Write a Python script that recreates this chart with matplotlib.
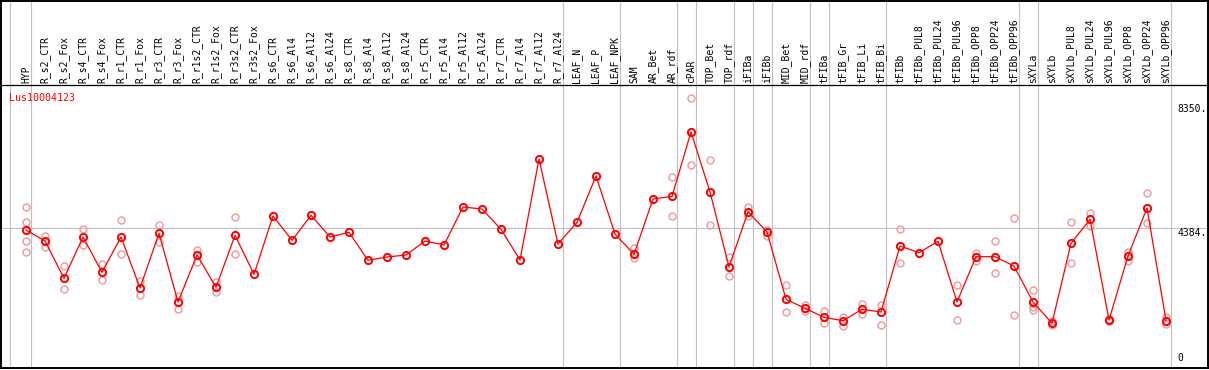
import matplotlib
matplotlib.use("Agg")
import matplotlib.pyplot as plt

# sample names, in drawing order
samples = [
    "HYP", "R_s2_CTR", "R_s2_Fox", "R_s4_CTR", "R_s4_Fox", "R_r1_CTR", "R_r1_Fox",
    "R_r3_CTR", "R_r3_Fox", "R_r1s2_CTR", "R_r1s2_Fox", "R_r3s2_CTR", "R_r3s2_Fox",
    "R_s6_CTR", "R_s6_Al4", "R_s6_Al12", "R_s6_Al24", "R_s8_CTR", "R_s8_Al4",
    "R_s8_Al12", "R_s8_Al24", "R_r5_CTR", "R_r5_Al4", "R_r5_Al12", "R_r5_Al24",
    "R_r7_CTR", "R_r7_Al4", "R_r7_Al12", "R_r7_Al24", "LEAF_N", "LEAF_P", "LEAF_NPK",
    "SAM", "AR_Bet", "AR_rdf", "cPAR", "TOP_Bet", "TOP_rdf", "iFIBa", "iFIBb",
    "MID_Bet", "MID_rdf", "tFIBa", "tFIB_Gr", "tFIB_Li", "tFIB_Bi", "tFIBb",
    "tFIBb_PUL8", "tFIBb_PUL24", "tFIBb_PUL96", "tFIBb_OPP8", "tFIBb_OPP24",
    "tFIBb_OPP96", "sXYLa", "sXYLb", "sXYLb_PUL8", "sXYLb_PUL24", "sXYLb_PUL96",
    "sXYLb_OPP8", "sXYLb_OPP24", "sXYLb_OPP96",
]

# mean expression per sample
means = [
    4320, 3968, 2774, 4096, 2966, 4096, 2464, 4214, 2016, 3520, 2486, 4150, 2902,
    4768, 3990, 4790, 4096, 4246, 3350, 3456, 3520, 3968, 3840, 5056, 4992, 4342,
    3360, 6592, 3872, 4566, 6048, 4192, 3542, 5312, 5398, 7456, 5536, 3136, 4906,
    4256, 2102, 1814, 1526, 1418, 1782, 1696, 3808, 3594, 3958, 2016, 3466, 3466,
    3168, 2016, 1334, 3894, 4662, 1440, 3488, 5024, 1418,
]

# replicate values (sample index -> values) where visible
replicates = {
    0: [5046, 4576, 3958, 3606],
    1: [4138, 3766],
    2: [3168, 2422],
    3: [4342, 3830],
    4: [3232, 2710],
    5: [4630, 3542],
    6: [2688, 2230],
    7: [4480, 3946],
    8: [2208, 1802],
    9: [3680, 3296],
    10: [2666, 2326],
    11: [4736, 3552],
    32: [3754, 3414],
    34: [6006, 4768],
    35: [8544, 6390],
    36: [6560, 4480],
    37: [3466, 2848],
    38: [5066, 4768],
    39: [4320, 4128],
    40: [2560, 1696],
    41: [1920, 1738],
    42: [1738, 1354],
    43: [1546, 1248],
    44: [1952, 1622],
    45: [1920, 1270],
    46: [4342, 3254],
    49: [2560, 1440],
    50: [3574, 3338],
    51: [3968, 2944],
    52: [4694, 1590],
    53: [2400, 1846, 1760],
    54: [1418, 1270],
    55: [4566, 3264],
    56: [4874, 4448],
    57: [1482, 1398],
    58: [3616, 3338],
    59: [5494, 4534],
    60: [1526, 1312],
}

# last sample index of each group
group_ends = [0, 28, 31, 34, 35, 37, 38, 39, 41, 42, 45, 52, 53, 60]

gene = "Lus10004123"
scale_ticks = [8350, 4384, 0]

fig = plt.figure(figsize=(12.09, 3.70), dpi=100)
ax = fig.add_axes([1 / 1209, 2 / 370, 1207 / 1209, 367 / 370])
ax.set_xlim(-1.316, 62.21)
ax.set_ylim(-96, 11648)

mono = "DejaVu Sans Mono"
grey = "#c0c0c0"
header_y = 8960

# group separators
ax.axvline(-0.84, color=grey, lw=0.8, zorder=1)
for g in group_ends:
    ax.axvline(g + 0.24, color=grey, lw=0.8, zorder=1)
ax.axhline(scale_ticks[1], color=grey, lw=0.8, zorder=1)
ax.axhline(header_y, color="black", lw=0.9, zorder=2)

# replicates
for i, vals in replicates.items():
    ax.plot([i] * len(vals), vals, linestyle="none", marker="o", ms=5.0,
            mfc="none", mec="#f0a0a0", mew=1.1, zorder=3)

# means
x = list(range(len(samples)))
ax.plot(x, means, color="red", lw=0.9, marker="o", ms=5.2, mfc="none",
        mec="red", mew=1.4, zorder=4)

# sample labels in header
for i, name in enumerate(samples):
    ax.text(i, header_y + 70, name, rotation=90, ha="center", va="bottom",
            fontsize=7, family=mono, color="black")

ax.text(-0.9, 8704, gene, ha="left", va="top", fontsize=7.2, family=mono,
        color="red")

# scale labels on the right
ax.text(60.6, scale_ticks[0], "8350.", ha="left", va="top", fontsize=7,
        family=mono)
ax.text(60.6, scale_ticks[1], "4384.", ha="left", va="top", fontsize=7,
        family=mono)
ax.text(60.6, scale_ticks[2] + 60, "0", ha="left", va="bottom", fontsize=7,
        family=mono)

ax.set_xticks([])
ax.set_yticks([])
for s in ax.spines.values():
    s.set_linewidth(1.4)

fig.savefig("out.png", dpi=100)
